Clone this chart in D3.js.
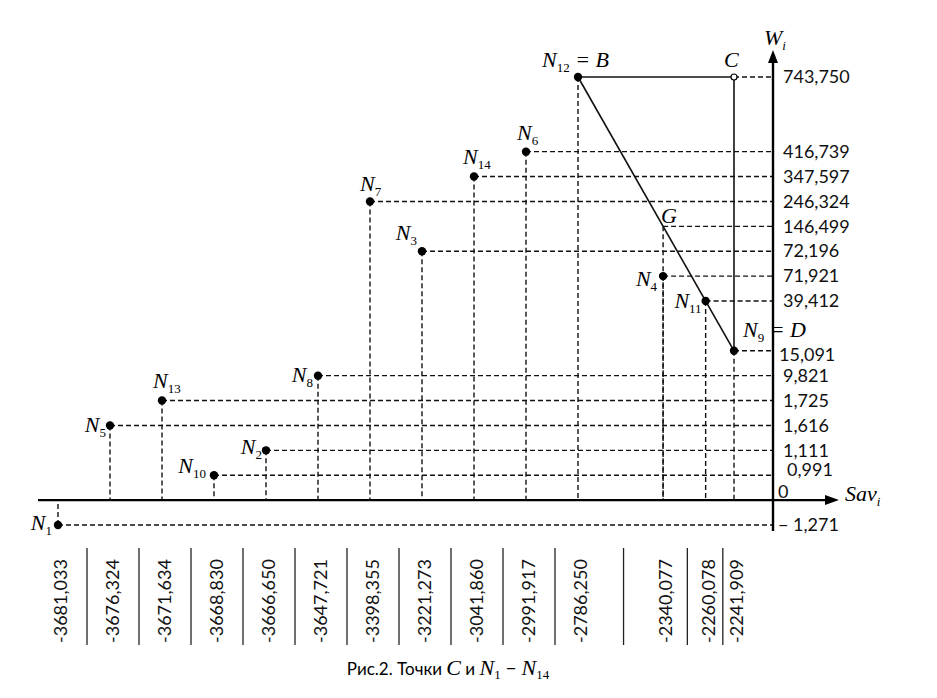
<!DOCTYPE html>
<html>
<head>
<meta charset="utf-8">
<script src="https://cdn.jsdelivr.net/npm/d3@7"></script>
<style>
  body { margin: 0; background: #fff; }
  svg { display: block; }
  .num { font-family: Lato, "Open Sans", sans-serif; font-size: 18px; fill: #111; }
  .it { font-family: "Liberation Serif", "DejaVu Serif", serif; font-style: italic; font-size: 22px; fill: #000; }
  .sub { font-style: normal; font-size: 13px; }
  .sub.isub { font-style: italic; }
  .dash { stroke: #111; stroke-width: 1.4; stroke-dasharray: 5 3; fill: none; }
  .solid { stroke: #111; stroke-width: 1.6; fill: none; }
  .axis { stroke: #000; stroke-width: 2.4; }
  .sep { stroke: #222; stroke-width: 1.3; }
</style>
</head>
<body>
<svg id="chart" width="937" height="698"></svg>
<script>
// points N_i, ordered left to right along Sav
const pointIds  = [1, 5, 13, 10, 2, 8, 7, 3, 14, 6, 12, 4, 11, 9];
const savValues = [-3681.033, -3676.324, -3671.634, -3668.830, -3666.650, -3647.721,
                   -3398.355, -3221.273, -3041.860, -2991.917, -2786.250, -2340.077, -2260.078, -2241.909];
const wValues   = [-1.271, 1.616, 1.725, 0.991, 1.111, 9.821,
                   246.324, 72.196, 347.597, 416.739, 743.750, 71.921, 39.412, 15.091];
// N12 = B, N9 = D, C = (Sav of D, W of B); G is where BD crosses the Sav of N4
const pointAliases = { 12: 'B', 9: 'D' };
const gWValue = 146.499;
const gOverPoint = 4;

const svg = d3.select('#chart');
const fmt = d3.formatLocale({ decimal: ',', thousands: ' ', grouping: [3], currency: ['', ''], minus: '-' }).format('.3f');

const pts = pointIds.map((id, i) => ({ id, sav: savValues[i], w: wValues[i], alias: pointAliases[id] }));
const B = pts.find(p => p.alias === 'B');
const D = pts.find(p => p.alias === 'D');
const C = { sav: D.sav, w: B.w };
const G = { sav: pts.find(p => p.id === gOverPoint).sav, w: gWValue };

/* Scales: the figure is schematic, so both axes go by rank */
const x = d3.scalePoint().domain(savValues).range([58, 734]);

const levels = Array.from(new Set([...wValues, gWValue, 0])).sort((a, b) => b - a);
const yDomain = [];
levels.forEach((v, i) => {
  if (v === D.w) yDomain.push('gapD');             // room for the "N9 = D" label
  yDomain.push(v);
  if (i === 0) yDomain.push('gapTop1', 'gapTop2'); // room for the B / C labels
});
const y = d3.scalePoint().domain(yDomain).range([77, 525]);

const axisX = x.range()[1] + 39;
const y0 = y(0);

/* points lying on BD are placed on the drawn segment */
const xB = x(B.sav), yB = y(B.w), xD = x(D.sav), yD = y(D.w);
const lineW = s => B.w + (s - B.sav) / (D.sav - B.sav) * (D.w - B.w);
const onLine = new Map();
[...pts.filter(p => p !== B && p !== D), G].forEach(p => {
  if (p.sav > B.sav && p.sav < D.sav && Math.abs(lineW(p.sav) - p.w) < 0.1) {
    onLine.set(p.sav, xB + (y(p.w) - yB) / (yD - yB) * (xD - xB));
  }
});
const px = s => onLine.has(s) ? onLine.get(s) : x(s);

/* dashed guide lines */
const guides = svg.append('g');
[...pts.filter(p => p !== B), C, G].forEach(p => {
  guides.append('line').attr('class', 'dash')
    .attr('x1', px(p.sav)).attr('x2', axisX).attr('y1', y(p.w)).attr('y2', y(p.w));
});
[...pts, G].forEach(p => {
  guides.append('line').attr('class', 'dash')
    .attr('x1', px(p.sav)).attr('x2', px(p.sav)).attr('y1', y(p.w)).attr('y2', y0);
});

/* B-C, C-D, B-D */
const solid = svg.append('g');
[[B, C], [C, D], [B, D]].forEach(([a, b]) => {
  solid.append('line').attr('class', 'solid')
    .attr('x1', px(a.sav)).attr('y1', y(a.w)).attr('x2', px(b.sav)).attr('y2', y(b.w));
});

/* axes with arrows */
const axes = svg.append('g');
axes.append('line').attr('class', 'axis').attr('x1', 38).attr('x2', 828).attr('y1', y0).attr('y2', y0);
axes.append('path').attr('d', `M839,${y0}L825,${y0 - 5}L825,${y0 + 5}Z`).attr('fill', '#000');
axes.append('line').attr('class', 'axis').attr('x1', axisX).attr('x2', axisX).attr('y1', y(-1.271) + 6).attr('y2', 60);
axes.append('path').attr('d', `M${axisX},50L${axisX - 5},63L${axisX + 5},63Z`).attr('fill', '#000');

axes.append('text').attr('class', 'it').attr('x', 845).attr('y', y0 + 1)
  .call(t => { t.append('tspan').text('Sav'); t.append('tspan').attr('class', 'sub isub').attr('dy', 5).text('i'); });
axes.append('text').attr('class', 'it').attr('x', 764).attr('y', 45)
  .call(t => { t.append('tspan').text('W'); t.append('tspan').attr('class', 'sub isub').attr('dy', 5).text('i'); });

/* y tick labels, right of the axis */
const yAxis = d3.axisRight(y).tickValues(levels).tickSize(0).tickPadding(10)
  .tickFormat(v => v === 0 ? '0' : v < 0 ? '\u2212 ' + fmt(-v) : fmt(v));
const yg = svg.append('g').attr('transform', `translate(${axisX},0)`).call(yAxis);
yg.select('.domain').remove();
yg.selectAll('text').attr('class', 'num').attr('font-family', null).attr('font-size', null).attr('fill', null);
yg.selectAll('.tick').filter(v => v === 0).select('text').attr('x', 5).attr('y', -8);
yg.selectAll('.tick').filter(v => v === 0.991).select('text').attr('x', 14).attr('y', -5);
yg.selectAll('.tick').filter(v => v === D.w).select('text').attr('x', 6).attr('y', 4);
yg.selectAll('.tick').filter(v => v < 0).select('text').attr('x', 5);

/* point markers */
svg.append('g').selectAll('circle').data(pts).join('circle')
  .attr('cx', p => px(p.sav)).attr('cy', p => y(p.w)).attr('r', 4.2).attr('fill', '#000');
svg.append('circle').attr('cx', px(C.sav)).attr('cy', y(C.w)).attr('r', 3)
  .attr('fill', '#fff').attr('stroke', '#000').attr('stroke-width', 1.2);

/* point labels */
const labelPlace = {
  1: ['end', -6, 5], 5: ['end', -4, 7], 13: ['start', -9, -13], 10: ['end', -8, -2],
  2: ['end', -4, 4], 8: ['end', -5, 6], 7: ['start', -10, -10], 3: ['end', -5, -11],
  14: ['start', -11, -13], 6: ['start', -9, -12], 12: ['start', -36, -10],
  4: ['end', -6, 10], 11: ['end', -4, 7], 9: ['start', 9, -14]
};
const labels = svg.append('g');
pts.forEach(p => {
  const [anchor, dx, dy] = labelPlace[p.id];
  const t = labels.append('text').attr('class', 'it').attr('text-anchor', anchor)
    .attr('x', px(p.sav) + dx).attr('y', y(p.w) + dy);
  t.append('tspan').text('N');
  t.append('tspan').attr('class', 'sub').attr('dy', 5).text(p.id);
  if (p.alias) t.append('tspan').attr('dy', -5).text(' = ' + p.alias);
});
labels.append('text').attr('class', 'it').attr('x', px(C.sav) - 10).attr('y', y(C.w) - 10).text('C');
labels.append('text').attr('class', 'it').attr('x', px(G.sav) - 2).attr('y', y(G.w) - 3).text('G');

/* Sav values table under the figure */
const table = svg.append('g');
const cols = pts.map(p => px(p.sav) + 3);
cols.forEach((cx, i) => {
  table.append('text').attr('class', 'num')
    .attr('transform', `translate(${cx},643) rotate(-90)`).attr('dy', '0.35em')
    .text(fmt(savValues[i]));
  if (i > 0) {
    const sx = (cols[i - 1] + cx) / 2;
    table.append('line').attr('class', 'sep').attr('x1', sx).attr('x2', sx).attr('y1', 548).attr('y2', 645);
  }
});

/* caption */
const cap = svg.append('text').attr('x', 448).attr('y', 675).attr('text-anchor', 'middle')
  .attr('font-family', 'Lato, sans-serif').attr('font-size', 17);
cap.append('tspan').text('Рис.2. Точки ');
cap.append('tspan').attr('class', 'it').attr('font-size', 23).text('C');
cap.append('tspan').text('  и ');
cap.append('tspan').attr('class', 'it').attr('font-size', 23).text('N');
cap.append('tspan').attr('font-family', 'Liberation Serif').attr('font-size', 13).attr('dy', 4).text('1');
cap.append('tspan').attr('dy', -4).attr('font-size', 19).text(' \u2212 ');
cap.append('tspan').attr('class', 'it').attr('font-size', 23).text('N');
cap.append('tspan').attr('font-family', 'Liberation Serif').attr('font-size', 13).attr('dy', 4).text('14');
</script>
</body>
</html>
